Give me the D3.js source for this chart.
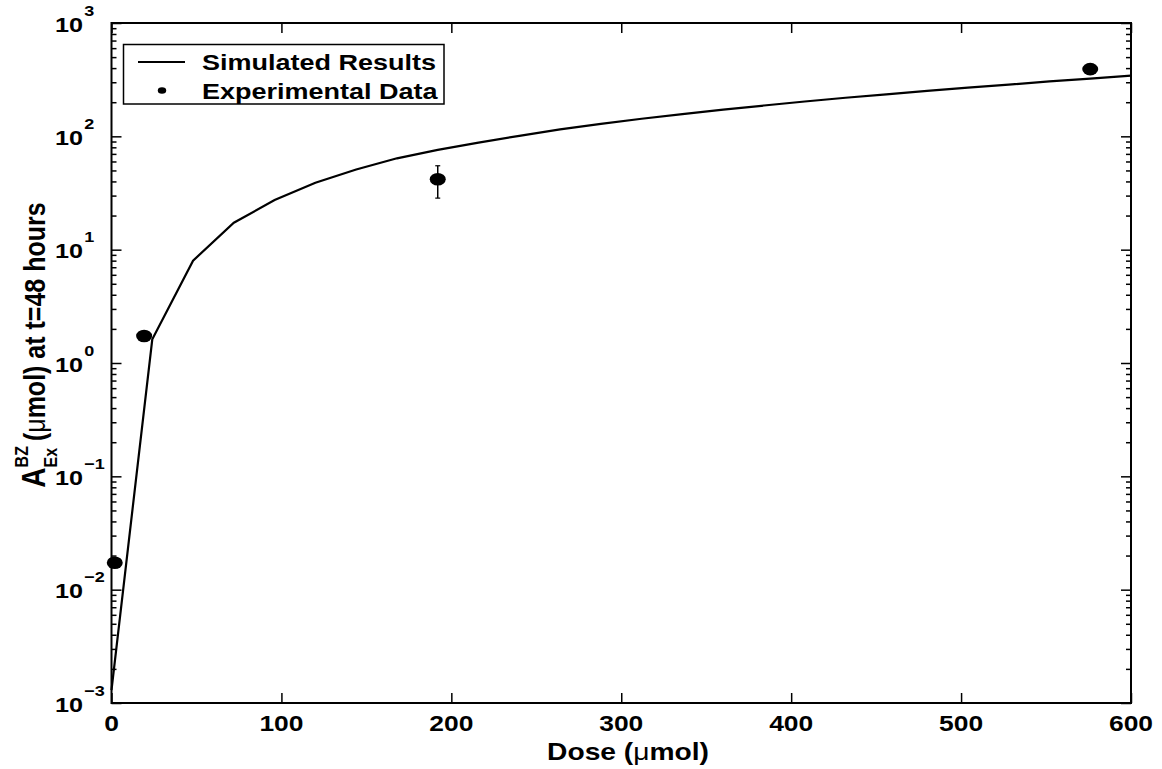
<!DOCTYPE html>
<html>
<head>
<meta charset="utf-8">
<script src="https://cdn.jsdelivr.net/npm/d3@7"></script>
<style>
  body { margin: 0; background: #fff; }
  text { font-family: "Liberation Sans", Arial, sans-serif; font-weight: bold; fill: #000; }
</style>
</head>
<body>
<div id="chart-area"></div>
<script>

// SVG Size
var width = 1162,
    height = 769;

// Simulated curve (dose in umol, amount excreted in umol)
var simDose = [0, 24, 48, 72, 96, 120, 144, 168, 192, 216, 240, 264, 288, 312,
               336, 360, 384, 408, 432, 456, 480, 504, 528, 552, 576, 600];
var simValue = [0.0013, 1.62, 8.0, 17.3, 27.4, 39, 51, 64, 76, 88, 101, 115, 129, 143,
                157, 172, 187, 203, 219, 235, 252, 269, 286, 305, 323, 343];

// Experimental data
var expDose = [1.92, 19.2, 192, 576];
var expValue = [0.0173, 1.73, 41.8, 392];
var expLow = [null, null, 28.5, null];
var expHigh = [null, null, 55, null];

// Ticks
var xTicks = [0, 100, 200, 300, 400, 500, 600];
var yExponents = [-3, -2, -1, 0, 1, 2, 3];

// Horizontal stretch of the text in the original
var stretch = 1.2;

var svg = d3.select("#chart-area").append("svg")
    .attr("width", width)
    .attr("height", height);

// Scales
var x = d3.scaleLinear()
    .domain([0, 600])
    .range([111.5, 1131]);

var y = d3.scaleLog()
    .domain([1e-3, 1e3])
    .range([703, 23]);

// Minor log ticks 2..9 in each decade
var yMinor = [];
yExponents.slice(0, -1).forEach(function(e) {
  for (var k = 2; k <= 9; k++) yMinor.push(k * Math.pow(10, e));
});
var yMajor = yExponents.map(function(e) { return Math.pow(10, e); });

function tickAxis(axis, tr) {
  var g = svg.append("g").attr("transform", tr).call(axis);
  g.select(".domain").remove();
  g.selectAll("line").attr("stroke", "#000").attr("stroke-width", 1.5);
  g.selectAll("text").remove();
  return g;
}

// X ticks, bottom and top, pointing inward
tickAxis(d3.axisBottom(x).tickValues(xTicks).tickSize(-10), "translate(0," + y(1e-3) + ")");
tickAxis(d3.axisTop(x).tickValues(xTicks).tickSize(-10), "translate(0," + y(1e3) + ")");

// Y ticks, left and right
tickAxis(d3.axisLeft(y).tickValues(yMajor).tickSize(-10), "translate(" + x(0) + ",0)");
tickAxis(d3.axisLeft(y).tickValues(yMinor).tickSize(-5), "translate(" + x(0) + ",0)");
tickAxis(d3.axisRight(y).tickValues(yMajor).tickSize(-10), "translate(" + x(600) + ",0)");
tickAxis(d3.axisRight(y).tickValues(yMinor).tickSize(-5), "translate(" + x(600) + ",0)");

// Frame
svg.append("rect")
    .attr("x", x(0))
    .attr("y", y(1e3))
    .attr("width", x(600) - x(0))
    .attr("height", y(1e-3) - y(1e3))
    .attr("fill", "none")
    .attr("stroke", "#000")
    .attr("stroke-width", 2);

// X tick labels
svg.selectAll(".xlabel")
  .data(xTicks)
  .enter()
  .append("text")
    .attr("class", "xlabel")
    .attr("transform", function(d) { return "translate(" + x(d) + ",731) scale(" + stretch + ",1)"; })
    .attr("text-anchor", "middle")
    .style("font-size", "22px")
    .text(function(d) { return d; });

// Y tick labels 10^e
var yl = svg.selectAll(".ylabel")
  .data(yExponents)
  .enter()
  .append("text")
    .attr("class", "ylabel")
    .attr("transform", function(d) { return "translate(55," + (y(Math.pow(10, d)) + 8.5) + ") scale(" + stretch + ",1)"; })
    .style("font-size", "21px");
yl.append("tspan").text("10");
yl.append("tspan")
    .attr("dx", 1)
    .attr("dy", -16)
    .style("font-size", "15px")
    .text(function(d) { return d < 0 ? "\u2212" + (-d) : d; });

// X axis title
var xt = svg.append("text")
    .attr("transform", "translate(628,760) scale(" + stretch + ",1)")
    .attr("text-anchor", "middle")
    .style("font-size", "23.5px");
xt.append("tspan").text("Dose (");
xt.append("tspan").style("font-weight", "normal").text("\u03bc");
xt.append("tspan").text("mol)");

// Y axis title
var yt = svg.append("g")
    .attr("transform", "translate(45,345) scale(" + stretch + ",1) rotate(-90)");
var partA = yt.append("text").attr("x", 0).style("font-size", "28px").text("A");
var aw = partA.node().getComputedTextLength();
var partSup = yt.append("text").attr("x", aw).attr("y", -14).style("font-size", "16px").text("BZ");
var partSub = yt.append("text").attr("x", aw).attr("y", 10).style("font-size", "16px").text("Ex");
var sw = Math.max(partSup.node().getComputedTextLength(), partSub.node().getComputedTextLength());
var partMain = yt.append("text").attr("x", aw + sw + 5).style("font-size", "25px");
partMain.append("tspan").text("(");
partMain.append("tspan").style("font-weight", "normal").text("\u03bc");
partMain.append("tspan").text("mol) at t=48 hours");
var total = aw + sw + 5 + partMain.node().getComputedTextLength();
yt.selectAll("text").attr("transform", "translate(" + (-total / 2) + ",0)");

// Simulated line
var simData = simDose.map(function(d, i) { return { dose: d, value: simValue[i] }; });
var line = d3.line()
    .x(function(d) { return x(d.dose); })
    .y(function(d) { return y(d.value); });

svg.append("path")
    .datum(simData)
    .attr("d", line)
    .attr("fill", "none")
    .attr("stroke", "#000")
    .attr("stroke-width", 2.2);

// Experimental points with error bars
var expData = expDose.map(function(d, i) {
  return { dose: d, value: expValue[i], low: expLow[i], high: expHigh[i] };
});
var bars = expData.filter(function(d) { return d.low !== null; });

svg.selectAll(".err")
  .data(bars)
  .enter()
  .append("line")
    .attr("x1", function(d) { return x(d.dose); })
    .attr("x2", function(d) { return x(d.dose); })
    .attr("y1", function(d) { return y(d.low); })
    .attr("y2", function(d) { return y(d.high); })
    .attr("stroke", "#000")
    .attr("stroke-width", 1.5);

["low", "high"].forEach(function(k) {
  svg.selectAll(".cap-" + k)
    .data(bars)
    .enter()
    .append("line")
      .attr("x1", function(d) { return x(d.dose) - 2.5; })
      .attr("x2", function(d) { return x(d.dose) + 2.5; })
      .attr("y1", function(d) { return y(d[k]); })
      .attr("y2", function(d) { return y(d[k]); })
      .attr("stroke", "#000")
      .attr("stroke-width", 1.2);
});

svg.selectAll(".pt")
  .data(expData)
  .enter()
  .append("ellipse")
    .attr("cx", function(d) { return x(d.dose); })
    .attr("cy", function(d) { return y(d.value); })
    .attr("rx", 8)
    .attr("ry", 6.3)
    .attr("fill", "#000");

// Legend
var legend = svg.append("g");
legend.append("rect")
    .attr("x", 123.5)
    .attr("y", 44.5)
    .attr("width", 320.5)
    .attr("height", 59.5)
    .attr("fill", "#fff")
    .attr("stroke", "#000")
    .attr("stroke-width", 1.5);
legend.append("line")
    .attr("x1", 138).attr("x2", 185)
    .attr("y1", 62).attr("y2", 62)
    .attr("stroke", "#000")
    .attr("stroke-width", 1.8);
legend.append("ellipse")
    .attr("cx", 162).attr("cy", 90.5)
    .attr("rx", 4.2).attr("ry", 3.3)
    .attr("fill", "#000");
legend.append("text")
    .attr("transform", "translate(202,70) scale(" + stretch + ",1)")
    .style("font-size", "22.5px")
    .text("Simulated Results");
legend.append("text")
    .attr("transform", "translate(202,99) scale(" + stretch + ",1)")
    .style("font-size", "22.5px")
    .text("Experimental Data");

</script>
</body>
</html>
